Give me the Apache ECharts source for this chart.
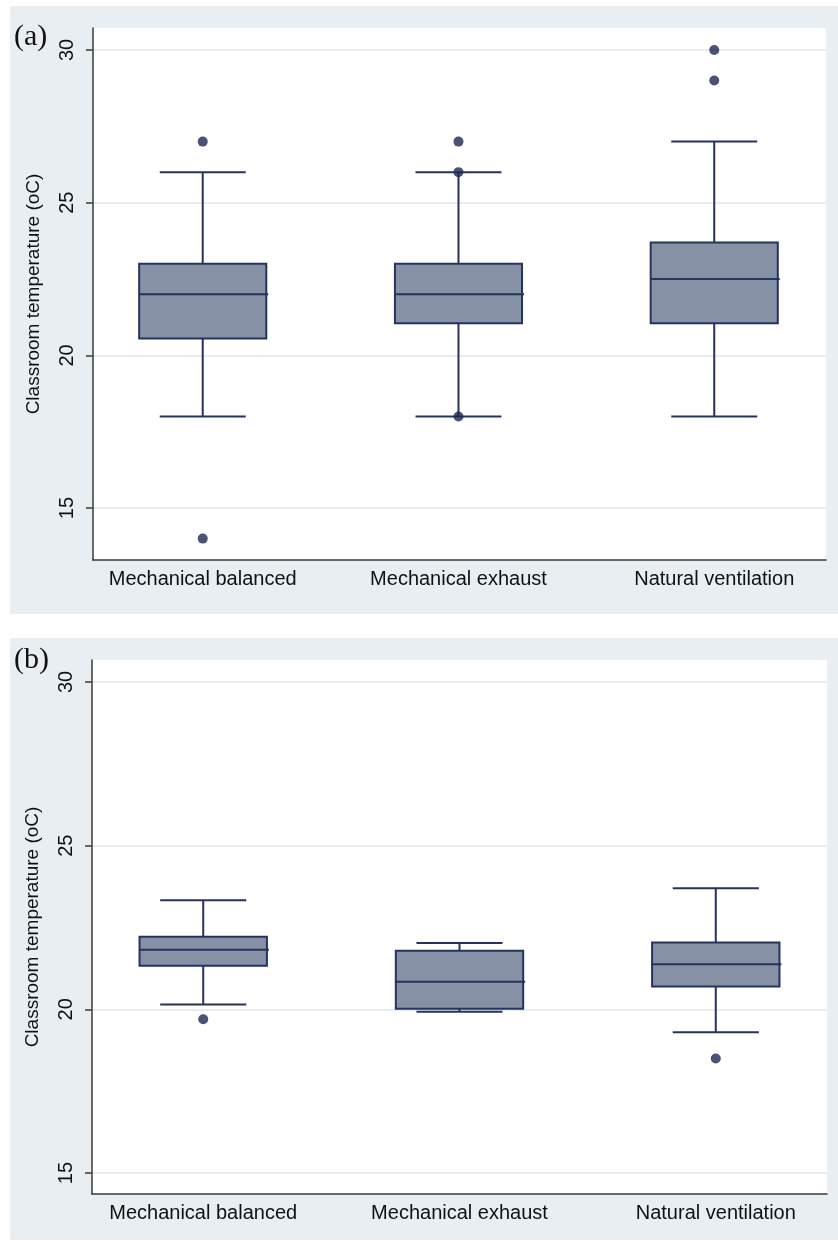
<!DOCTYPE html>
<html>
<head>
<meta charset="utf-8">
<script src="https://cdn.jsdelivr.net/npm/echarts@6/dist/echarts.min.js"></script>
<style>html,body{margin:0;padding:0;background:#fff;}#c{width:838px;height:1243px;}</style>
</head>
<body>
<div id="c"></div>
<script>
// ---- data ----
const categories = ['Mechanical balanced', 'Mechanical exhaust', 'Natural ventilation'];
const yTicks = [15, 20, 25, 30];
// [lower whisker, Q1, median, Q3, upper whisker]
const boxA = [[18, 20.55, 22, 23, 26], [18, 21.05, 22, 23, 26], [18, 21.05, 22.5, 23.7, 27]];
const outliersA = [[0, 27], [0, 14], [1, 27], [1, 26], [1, 18], [2, 30], [2, 29]];
const boxB = [[20.15, 21.33, 21.82, 22.22, 23.33], [19.93, 20.02, 20.84, 21.79, 22.03], [19.3, 20.7, 21.38, 22.04, 23.7]];
const outliersB = [[0, 19.7], [2, 18.5]];
const yTitle = 'Classroom temperature (oC)';
const panelLabels = ['(a)', '(b)'];

// ---- styles ----
const BG = '#e8eef1', GRIDC = '#e6edf0', AXC = '#3a3a3a', FILL = '#8791a6', LINE = '#25335e', DOT = '#1c2852';
const FONT = 'Liberation Sans, Arial, sans-serif';

function boxData(arr) { return arr.map((b, i) => [i].concat(b)); }

function renderBox(params, api) {
  const x = api.value(0);
  const lo = api.coord([x, api.value(1)]);
  const q1 = api.coord([x, api.value(2)]);
  const md = api.coord([x, api.value(3)]);
  const q3 = api.coord([x, api.value(4)]);
  const hi = api.coord([x, api.value(5)]);
  const bw = api.size([0.497, 0])[0];
  const cw = api.size([0.336, 0])[0];
  const cx = lo[0];
  const ls = { stroke: LINE, lineWidth: 2, fill: null };
  return {
    type: 'group',
    children: [
      { type: 'line', shape: { x1: cx, y1: lo[1], x2: cx, y2: q1[1] }, style: ls },
      { type: 'line', shape: { x1: cx, y1: q3[1], x2: cx, y2: hi[1] }, style: ls },
      { type: 'line', shape: { x1: cx - cw / 2, y1: lo[1], x2: cx + cw / 2, y2: lo[1] }, style: ls },
      { type: 'line', shape: { x1: cx - cw / 2, y1: hi[1], x2: cx + cw / 2, y2: hi[1] }, style: ls },
      { type: 'rect', shape: { x: cx - bw / 2, y: q3[1], width: bw, height: q1[1] - q3[1] }, style: { fill: FILL, stroke: LINE, lineWidth: 2 } },
      { type: 'line', shape: { x1: cx - bw / 2, y1: md[1], x2: cx + bw / 2 + 2, y2: md[1] }, style: ls }
    ]
  };
}

function xAxisCfg(idx, min, max) {
  return {
    type: 'value', gridIndex: idx, min: min, max: max,
    axisLine: { show: true, onZero: false, lineStyle: { color: AXC, width: 1.5 } },
    axisTick: { show: false },
    splitLine: { show: false },
    axisLabel: {
      customValues: [0, 1, 2], formatter: v => categories[Math.round(v)] || '',
      color: '#111', fontFamily: FONT, fontSize: 20, margin: 9
    }
  };
}
function yAxisCfg(idx, min, max) {
  return {
    type: 'value', gridIndex: idx, min: min, max: max,
    name: yTitle, nameLocation: 'middle', nameGap: 50, nameRotate: 90,
    nameTextStyle: { color: '#111', fontFamily: FONT, fontSize: 19 },
    axisLine: { show: true, onZero: false, lineStyle: { color: AXC, width: 1.5 } },
    axisTick: { show: true, customValues: yTicks, length: 7, lineStyle: { color: AXC, width: 1.5 } },
    splitLine: { show: true, lineStyle: { color: GRIDC, width: 2 } },
    axisLabel: { customValues: yTicks, rotate: 90, color: '#111', fontFamily: FONT, fontSize: 20, margin: 16 }
  };
}

const chart = echarts.init(document.getElementById('c'), null, { renderer: 'canvas' });
chart.setOption({
  backgroundColor: '#fff',
  animation: false,
  graphic: [
    { type: 'rect', z: -10, shape: { x: 10, y: 6, width: 828, height: 608 }, style: { fill: BG } },
    { type: 'rect', z: -10, shape: { x: 10, y: 638, width: 828, height: 602 }, style: { fill: BG } },
    { type: 'text', left: 14, top: 22, style: { text: panelLabels[0], font: '30px "Liberation Serif", "Times New Roman", serif', fill: '#111' } },
    { type: 'text', left: 14, top: 645, style: { text: panelLabels[1], font: '30px "Liberation Serif", "Times New Roman", serif', fill: '#111' } }
  ],
  grid: [
    { left: 93, top: 28, right: 12, bottom: 683, show: true, backgroundColor: '#fff', borderWidth: 0 },
    { left: 92, top: 660, right: 11, bottom: 49, show: true, backgroundColor: '#fff', borderWidth: 0 }
  ],
  xAxis: [xAxisCfg(0, -0.429, 2.437), xAxisCfg(1, -0.434, 2.434)],
  yAxis: [yAxisCfg(0, 13.3, 30.72), yAxisCfg(1, 14.36, 30.67)],
  series: [
    { type: 'custom', xAxisIndex: 0, yAxisIndex: 0, renderItem: renderBox, data: boxData(boxA), encode: { x: 0, y: [1, 2, 3, 4, 5] } },
    { type: 'scatter', xAxisIndex: 0, yAxisIndex: 0, data: outliersA, symbolSize: 10, itemStyle: { color: DOT }, z: 5 },
    { type: 'custom', xAxisIndex: 1, yAxisIndex: 1, renderItem: renderBox, data: boxData(boxB), encode: { x: 0, y: [1, 2, 3, 4, 5] } },
    { type: 'scatter', xAxisIndex: 1, yAxisIndex: 1, data: outliersB, symbolSize: 10, itemStyle: { color: DOT }, z: 5 }
  ]
});
</script>
</body>
</html>
